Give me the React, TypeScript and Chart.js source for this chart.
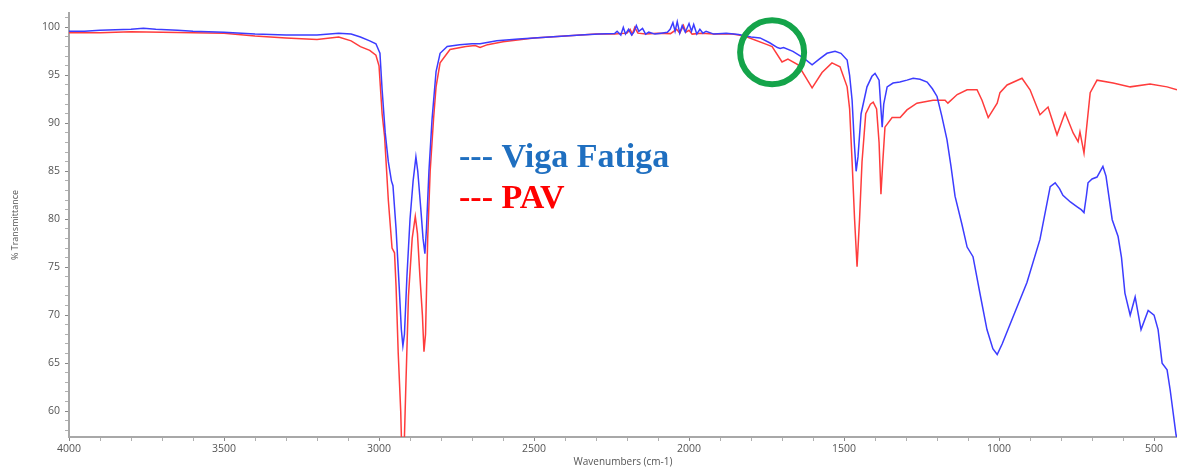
import React, { useEffect, useRef } from "react";
import { Chart, registerables } from "chart.js";

Chart.register(...registerables);

// FTIR spectra: [wavenumber (cm-1), % transmittance]
const vigaFatiga: [number, number][] = [
  [4000, 99.6], [3950, 99.6], [3900, 99.7], [3850, 99.75], [3800, 99.8], [3760, 99.9], [3720, 99.8],
  [3650, 99.7], [3600, 99.6], [3500, 99.5], [3400, 99.3], [3300, 99.2], [3200, 99.2], [3130, 99.4],
  [3090, 99.3], [3060, 99.0], [3030, 98.6], [3010, 98.3], [2997, 97.3], [2990, 93.5], [2980, 89.0],
  [2970, 86.0], [2960, 84.0], [2955, 83.5], [2945, 79.0], [2935, 73.0], [2928, 68.5], [2923, 66.8],
  [2918, 68.0], [2910, 74.0], [2900, 80.0], [2890, 84.0], [2881, 86.5], [2875, 85.0], [2865, 81.0],
  [2858, 78.0], [2852, 76.4], [2847, 79.0], [2839, 85.0], [2829, 90.4], [2816, 95.4], [2803, 97.3],
  [2780, 98.0], [2740, 98.2], [2700, 98.3], [2674, 98.3], [2620, 98.6], [2550, 98.8], [2450, 99.0],
  [2350, 99.2], [2290, 99.3], [2240, 99.35], [2232, 99.6], [2220, 99.2], [2212, 100.0], [2205, 99.3],
  [2195, 99.8], [2185, 99.2], [2178, 99.5], [2170, 100.2], [2162, 99.6], [2150, 99.9], [2140, 99.3],
  [2130, 99.5], [2110, 99.3], [2090, 99.4], [2070, 99.5], [2061, 99.8], [2052, 100.5], [2045, 99.6],
  [2038, 100.6], [2030, 99.4], [2022, 100.2], [2012, 99.5], [2000, 100.4], [1992, 99.6], [1985, 100.3],
  [1975, 99.3], [1965, 99.8], [1955, 99.4], [1945, 99.6], [1920, 99.3], [1880, 99.4], [1840, 99.25],
  [1800, 99.0], [1771, 98.9], [1740, 98.4], [1715, 97.9], [1706, 97.8], [1695, 97.9], [1665, 97.5],
  [1630, 96.8], [1603, 96.1], [1580, 96.7], [1555, 97.3], [1529, 97.5], [1510, 97.3], [1490, 96.6],
  [1482, 95.0], [1474, 92.4], [1467, 88.0], [1461, 85.0], [1455, 86.5], [1445, 91.0], [1426, 93.8],
  [1410, 94.9], [1400, 95.2], [1387, 94.5], [1382, 92.0], [1377, 89.6], [1372, 92.0], [1361, 93.8],
  [1342, 94.2], [1320, 94.3], [1297, 94.5], [1277, 94.7], [1255, 94.6], [1232, 94.3], [1215, 93.6],
  [1200, 92.8], [1185, 90.8], [1168, 88.3], [1155, 85.5], [1142, 82.4], [1120, 79.5], [1103, 77.1],
  [1084, 76.1], [1060, 72.0], [1039, 68.5], [1020, 66.5], [1006, 65.9], [990, 67.0], [955, 69.8],
  [910, 73.4], [868, 77.9], [835, 83.4], [819, 83.8], [805, 83.2], [794, 82.5], [770, 81.8],
  [748, 81.3], [735, 81.0], [726, 80.7], [718, 82.5], [713, 83.8], [700, 84.2], [684, 84.4],
  [665, 85.5], [655, 84.5], [635, 79.95], [616, 78.2], [605, 76.0], [594, 72.3], [577, 70.0],
  [561, 71.9], [542, 68.5], [519, 70.5], [500, 70.0], [487, 68.5], [474, 65.0], [458, 64.3],
  [448, 62.2], [429, 57.5], [420, 56.5],
];

const pav: [number, number][] = [
  [4000, 99.45], [3900, 99.45], [3800, 99.55], [3700, 99.5], [3600, 99.45], [3500, 99.4], [3400, 99.1],
  [3300, 98.9], [3200, 98.75], [3130, 99.0], [3090, 98.6], [3060, 98.0], [3030, 97.6], [3010, 97.1],
  [3000, 96.0], [2990, 91.0], [2982, 88.6], [2970, 82.0], [2958, 77.0], [2950, 76.5], [2945, 73.0],
  [2938, 66.0], [2930, 60.0], [2926, 55.0], [2920, 55.0], [2914, 62.0], [2905, 72.0], [2893, 78.0],
  [2883, 80.3], [2876, 78.5], [2868, 74.0], [2860, 70.0], [2855, 66.2], [2850, 68.0], [2843, 78.0],
  [2835, 85.0], [2824, 90.5], [2816, 93.8], [2803, 96.3], [2771, 97.7], [2720, 98.0], [2690, 98.1],
  [2674, 97.9], [2650, 98.2], [2600, 98.5], [2500, 98.9], [2400, 99.1], [2300, 99.3], [2240, 99.3],
  [2200, 99.4], [2190, 99.8], [2183, 99.3], [2175, 100.0], [2165, 99.4], [2140, 99.3], [2100, 99.4],
  [2060, 99.35], [2040, 99.8], [2030, 99.4], [2018, 100.2], [2010, 99.5], [2000, 99.7], [1990, 99.3],
  [1960, 99.4], [1920, 99.3], [1860, 99.3], [1840, 99.2], [1813, 99.0], [1748, 98.2], [1732, 98.0],
  [1700, 96.4], [1681, 96.7], [1648, 96.1], [1603, 93.7], [1571, 95.3], [1539, 96.3], [1513, 95.9],
  [1490, 93.8], [1482, 91.5], [1474, 86.0], [1466, 80.0], [1458, 75.05], [1450, 80.0], [1442, 86.0],
  [1430, 91.0], [1415, 92.0], [1406, 92.2], [1395, 91.5], [1387, 88.0], [1381, 82.6], [1375, 86.0],
  [1368, 89.6], [1345, 90.6], [1319, 90.6], [1297, 91.4], [1265, 92.1], [1213, 92.4], [1174, 92.4],
  [1165, 92.1], [1135, 93.0], [1103, 93.5], [1071, 93.5], [1055, 92.4], [1035, 90.6], [1006, 92.1],
  [997, 93.2], [974, 94.0], [926, 94.7], [900, 93.5], [868, 90.9], [842, 91.7], [813, 88.8],
  [787, 91.1], [761, 89.0], [745, 88.1], [739, 89.1], [726, 86.9], [706, 93.2], [684, 94.5],
  [632, 94.2], [577, 93.8], [513, 94.1], [458, 93.8], [426, 93.5],
];

const seriesLabels = ["Viga Fatiga", "PAV"];
const lineColors = ["#3c3cff", "#ff3c3c"];
const legendColors = ["#1f6fc0", "#ff0000"];

const xMajorTicks = [4000, 3500, 3000, 2500, 2000, 1500, 1000, 500];
const yMajorTicks = [100, 95, 90, 85, 80, 75, 70, 65, 60];

// highlighted carbonyl region (centre in data units)
const highlightCenter: [number, number] = [1732, 97.4];
const legendAnchor: [number, number] = [2742, 85.4];

const overlayPlugin = {
  id: "ftirOverlay",
  afterDatasetsDraw(chart: any) {
    const { ctx, scales } = chart;
    const x = scales.x;
    const y = scales.y;
    ctx.save();
    // green circle marking the C=O band
    ctx.beginPath();
    ctx.arc(x.getPixelForValue(highlightCenter[0]), y.getPixelForValue(highlightCenter[1]), 32, 0, Math.PI * 2);
    ctx.strokeStyle = "#14a44a";
    ctx.lineWidth = 6;
    ctx.stroke();
    // in-plot legend
    ctx.font = 'bold 34px "Liberation Serif", "Times New Roman", serif';
    ctx.textBaseline = "alphabetic";
    ctx.textAlign = "left";
    const lx = x.getPixelForValue(legendAnchor[0]);
    const ly = y.getPixelForValue(legendAnchor[1]);
    seriesLabels.forEach((label, i) => {
      ctx.fillStyle = legendColors[i];
      ctx.fillText("--- " + label, lx, ly + i * 41);
    });
    ctx.restore();
  },
};

export default function App() {
  const canvasRef = useRef<HTMLCanvasElement | null>(null);

  useEffect(() => {
    document.body.style.margin = "0";
    const canvas = canvasRef.current;
    if (!canvas) return;

    const xTicks: number[] = [];
    for (let v = 500; v <= 4000; v += 100) xTicks.push(v);
    const yTicks: number[] = [];
    for (let v = 58; v <= 101; v += 1) yTicks.push(v);

    const axisColor = "#a8a8a8";
    const tickFont = { family: '"Open Sans", "Noto Sans", sans-serif', size: 10.5 };

    const chart = new Chart(canvas, {
      type: "line",
      data: {
        datasets: [vigaFatiga, pav].map((series, i) => ({
          label: seriesLabels[i],
          data: series.map(([w, t]) => ({ x: w, y: t })),
          borderColor: lineColors[i],
          borderWidth: 1.5,
          pointRadius: 0,
          tension: 0,
          fill: false,
        })),
      },
      options: {
        animation: false,
        responsive: false,
        devicePixelRatio: 1,
        layout: { padding: { top: 13, right: 0, left: 0, bottom: 0 } },
        plugins: {
          legend: { display: false },
          tooltip: { enabled: false },
        },
        scales: {
          x: {
            type: "linear",
            reverse: true,
            min: 426,
            max: 4000,
            afterBuildTicks: (axis: any) => {
              axis.ticks = xTicks.map((v) => ({ value: v }));
            },
            afterFit: (axis: any) => {
              axis.height = 31;
            },
            ticks: {
              autoSkip: false,
              maxRotation: 0,
              padding: 2,
              color: "#555",
              font: tickFont,
              callback: (v: any) => (xMajorTicks.includes(Number(v)) ? String(v) : ""),
            },
            grid: {
              drawOnChartArea: false,
              drawTicks: true,
              tickLength: 4,
              color: (c: any) => (c.tick && xMajorTicks.includes(c.tick.value) ? "#888" : "#b0b0b0"),
            },
            border: { display: true, color: axisColor, width: 2 },
            title: {
              display: true,
              text: "Wavenumbers (cm-1)",
              color: "#555",
              font: { family: '"Open Sans", "Noto Sans", sans-serif', size: 10 },
              padding: { top: 0, bottom: 0 },
            },
          },
          y: {
            type: "linear",
            min: 57.3,
            max: 101.5,
            afterBuildTicks: (axis: any) => {
              axis.ticks = yTicks.map((v) => ({ value: v }));
            },
            afterFit: (axis: any) => {
              axis.width = 69;
            },
            ticks: {
              autoSkip: false,
              padding: 5,
              color: "#555",
              font: tickFont,
              callback: (v: any) => (yMajorTicks.includes(Number(v)) ? String(v) : ""),
            },
            grid: {
              drawOnChartArea: false,
              drawTicks: true,
              tickLength: 4,
              color: (c: any) => (c.tick && yMajorTicks.includes(c.tick.value) ? "#888" : "#b0b0b0"),
            },
            border: { display: true, color: axisColor, width: 2 },
            title: {
              display: true,
              text: "% Transmittance",
              color: "#555",
              font: { family: '"Open Sans", "Noto Sans", sans-serif', size: 9 },
              padding: { top: 10, bottom: 0 },
            },
          },
        },
      },
      plugins: [overlayPlugin],
    } as any);

    return () => chart.destroy();
  }, []);

  return (
    <div style={{ width: 1177, height: 468, background: "#fff" }}>
      <canvas ref={canvasRef} width={1177} height={468} style={{ display: "block" }} />
    </div>
  );
}
